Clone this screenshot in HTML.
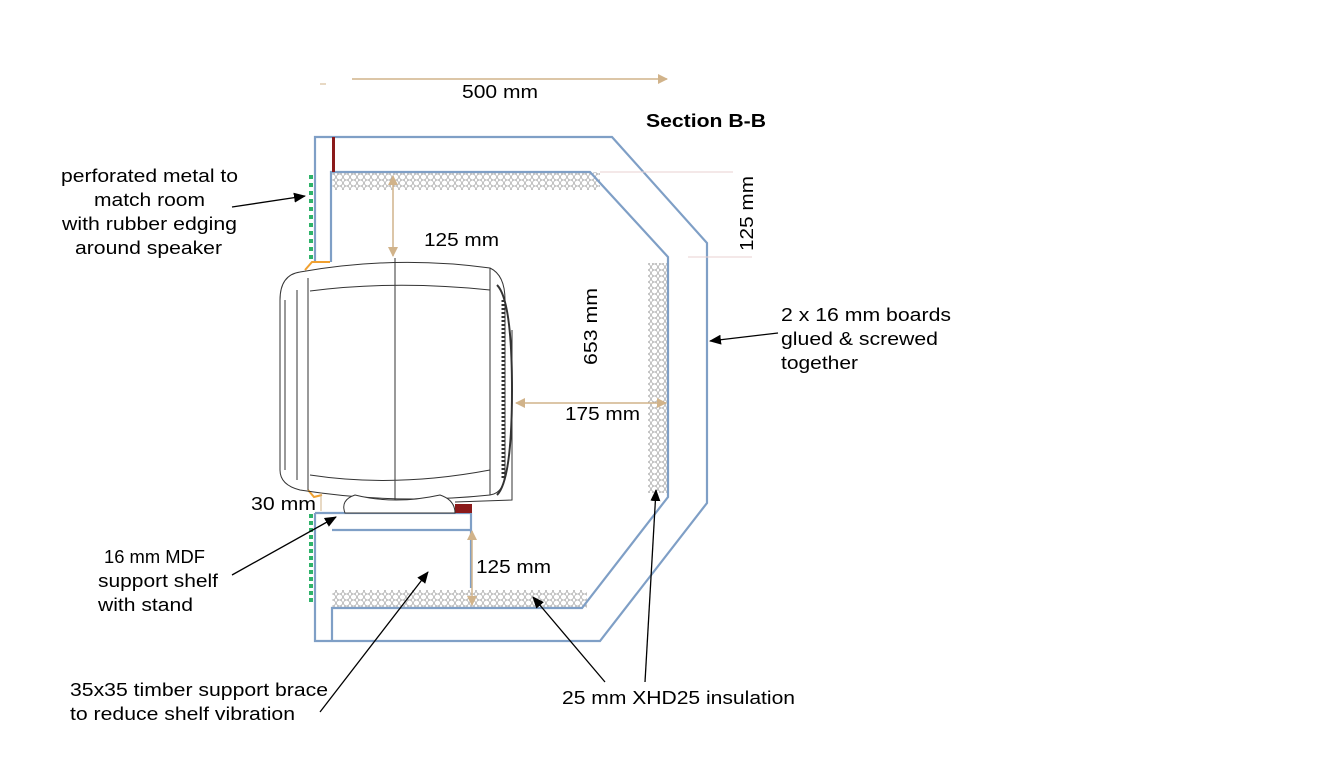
<!DOCTYPE html>
<html><head><meta charset="utf-8"><style>
html,body{margin:0;padding:0;background:#fff;}
svg{display:block;font-family:"Liberation Sans",sans-serif;}
</style></head><body>
<svg width="1338" height="758" viewBox="0 0 1338 758" xmlns="http://www.w3.org/2000/svg">
<defs>
<pattern id="ins" width="7" height="6" patternUnits="userSpaceOnUse">
<circle cx="3.5" cy="3" r="3" fill="none" stroke="#999" stroke-width="0.6"/>
</pattern>
<marker id="tan" markerWidth="10" markerHeight="10" refX="9" refY="5" orient="auto-start-reverse" markerUnits="userSpaceOnUse"><path d="M0,0 L10,5 L0,10 z" fill="#d1b38a"/></marker>
<marker id="blk" markerWidth="12" markerHeight="10" refX="11" refY="5" orient="auto" markerUnits="userSpaceOnUse"><path d="M0,0 L12,5 L0,10 z" fill="#000"/></marker>
</defs>

<line x1="352" y1="79" x2="667" y2="79" stroke="#d1b38a" stroke-width="1.5" marker-end="url(#tan)"/>
<line x1="320" y1="84" x2="326" y2="84" stroke="#d1b38a"/>

<rect x="332" y="172" width="268" height="18" fill="url(#ins)"/>
<rect x="648" y="263" width="20" height="230" fill="url(#ins)"/>
<rect x="332" y="590" width="255" height="18" fill="url(#ins)"/>

<g fill="none" stroke="#7f9fc6" stroke-width="2.2">
<polyline points="315,262 315,137 612,137 707,243 707,503 600,641 315,641 315,513"/>
<polyline points="331,262 331,172 590,172 668,257 668,497 582,608 332,608 332,641"/>
<line x1="315" y1="513" x2="472" y2="513"/>
<line x1="332" y1="530" x2="472" y2="530"/>
<line x1="471" y1="513" x2="471" y2="588"/>
</g>
<rect x="332" y="137" width="3" height="35" fill="#8b1a1a"/>
<rect x="455" y="504" width="17" height="9" fill="#8b1a1a"/>

<line x1="311" y1="175" x2="311" y2="262" stroke="#2fb36a" stroke-width="4" stroke-dasharray="4,4"/>
<line x1="311" y1="514" x2="311" y2="605" stroke="#2fb36a" stroke-width="4" stroke-dasharray="4,3"/>
<path d="M305,270 L312,262 L330,262" stroke="#f0a030" stroke-width="2" fill="none"/>
<path d="M308,490 L314,497 L322,495" stroke="#f0a030" stroke-width="2" fill="none"/>

<g fill="none" stroke="#333" stroke-width="1">
<path d="M300,272 Q395,255 490,268 Q505,275 505,300 L505,470 Q505,493 490,495 Q395,505 300,490 Q280,485 280,470 L280,300 Q280,275 300,272 Z"/>
<path d="M308,278 L308,490 M395,258 L395,505 M310,291 Q395,280 490,290 M310,475 Q395,488 490,470 M490,268 L490,495 M297,290 L297,480 M285,300 L285,470"/>
<path d="M497,285 Q512,300 512,390 Q512,480 497,495" stroke-width="2"/>
<path d="M503,300 L503,480" stroke-width="3" stroke-dasharray="2,2"/>
<path d="M512,330 L512,500 L455,502"/>
<path d="M345,513 Q340,500 355,495 Q395,505 440,495 Q455,500 455,513 Z" fill="#fff"/>
</g>

<g stroke="#d1b38a" stroke-width="1.5">
<line x1="393" y1="176" x2="393" y2="256" marker-start="url(#tan)" marker-end="url(#tan)"/>
<line x1="516" y1="403" x2="666" y2="403" marker-start="url(#tan)" marker-end="url(#tan)"/>
<line x1="472" y1="531" x2="472" y2="605" marker-start="url(#tan)" marker-end="url(#tan)"/>
<line x1="321" y1="493" x2="321" y2="511" stroke-width="1"/>
</g>
<line x1="600" y1="172" x2="733" y2="172" stroke="#e8d0d0" stroke-width="1"/>
<line x1="688" y1="257" x2="752" y2="257" stroke="#e8d0d0" stroke-width="1"/>

<g font-size="18" lengthAdjust="spacingAndGlyphs">
<text x="462" y="98" textLength="76" lengthAdjust="spacingAndGlyphs">500 mm</text>
<text x="646" y="127" textLength="120" lengthAdjust="spacingAndGlyphs" font-weight="bold">Section B-B</text>
<text x="424" y="246" textLength="75" lengthAdjust="spacingAndGlyphs">125 mm</text>
<text transform="translate(597,365) rotate(-90)" textLength="77" lengthAdjust="spacingAndGlyphs">653 mm</text>
<text x="565" y="420" textLength="75" lengthAdjust="spacingAndGlyphs">175 mm</text>
<text x="476" y="573" textLength="75" lengthAdjust="spacingAndGlyphs">125 mm</text>
<text transform="translate(753,251) rotate(-90)" textLength="75" lengthAdjust="spacingAndGlyphs">125 mm</text>
<text x="251" y="510" textLength="65" lengthAdjust="spacingAndGlyphs">30 mm</text>
<text x="61" y="182" textLength="177" lengthAdjust="spacingAndGlyphs">perforated metal to</text>
<text x="94" y="206" textLength="111" lengthAdjust="spacingAndGlyphs">match room</text>
<text x="62" y="230" textLength="175" lengthAdjust="spacingAndGlyphs">with rubber edging</text>
<text x="75" y="254" textLength="147" lengthAdjust="spacingAndGlyphs">around speaker</text>
<text x="104" y="563" textLength="101" lengthAdjust="spacingAndGlyphs">16 mm MDF</text>
<text x="98" y="587" textLength="120" lengthAdjust="spacingAndGlyphs">support shelf</text>
<text x="98" y="611" textLength="95" lengthAdjust="spacingAndGlyphs">with stand</text>
<text x="781" y="321" textLength="170" lengthAdjust="spacingAndGlyphs">2 x 16 mm boards</text>
<text x="781" y="345" textLength="157" lengthAdjust="spacingAndGlyphs">glued &amp; screwed</text>
<text x="781" y="369" textLength="77" lengthAdjust="spacingAndGlyphs">together</text>
<text x="70" y="696" textLength="258" lengthAdjust="spacingAndGlyphs">35x35 timber support brace</text>
<text x="70" y="720" textLength="225" lengthAdjust="spacingAndGlyphs">to reduce shelf vibration</text>
<text x="562" y="704" textLength="233" lengthAdjust="spacingAndGlyphs">25 mm XHD25 insulation</text>
</g>
<g stroke="#000" stroke-width="1.3" fill="none">
<line x1="232" y1="207" x2="305" y2="196" marker-end="url(#blk)"/>
<line x1="778" y1="333" x2="710" y2="341" marker-end="url(#blk)"/>
<line x1="232" y1="575" x2="336" y2="517" marker-end="url(#blk)"/>
<line x1="320" y1="712" x2="428" y2="572" marker-end="url(#blk)"/>
<line x1="605" y1="682" x2="533" y2="597" marker-end="url(#blk)"/>
<line x1="645" y1="682" x2="656" y2="490" marker-end="url(#blk)"/>
</g>
</svg>
</body></html>
